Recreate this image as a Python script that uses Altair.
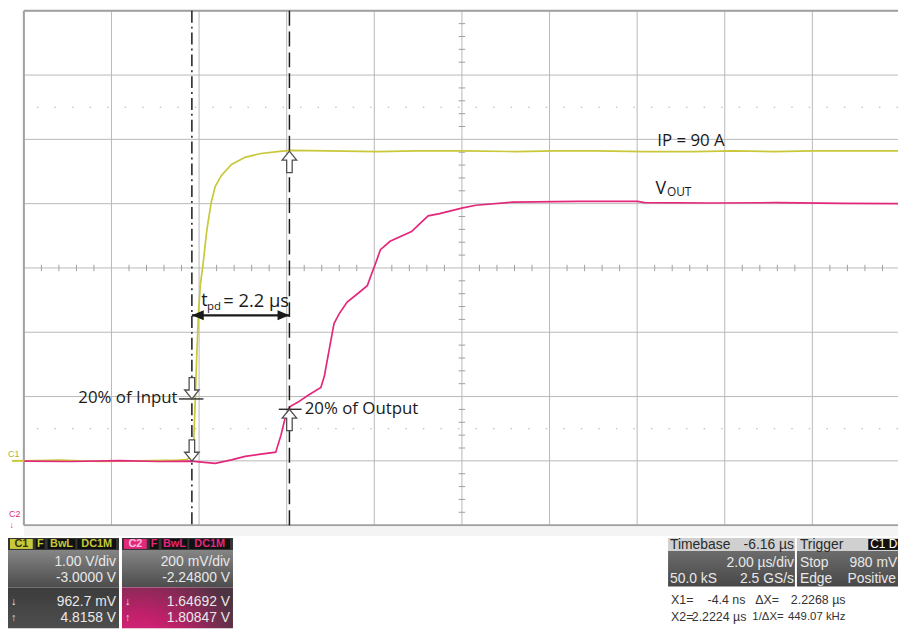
import altair as alt
import pandas as pd

# ---------------- oscilloscope settings ----------------
TIME_PER_DIV = 2.0          # µs/div
TIMEBASE_CENTER = 6.16      # µs at screen centre (Timebase -6.16 µs)
C1_VDIV, C1_OFFSET = 1.00, -3.0000
C2_VDIV, C2_OFFSET = 0.200, -2.24800
X1, X2 = -0.0044, 2.2224
C1_LOW, C1_HIGH = 0.9627, 4.8158
C2_LOW, C2_HIGH = 1.64692, 1.80847

# ---------------- traces ----------------
C1_T = [-3.83, -3.02, -2.11, -1.21, -0.30, -0.12, -0.05, -0.01, 0.04, 0.075, 0.11, 0.15,
        0.19, 0.24, 0.29, 0.33, 0.38, 0.44, 0.53, 0.67, 0.90, 1.21, 1.57, 1.95, 2.25,
        3.09, 4.22, 5.13, 6.17, 7.39, 8.29, 9.20, 10.33, 11.46, 12.37, 13.27, 14.18, 15.08, 16.12]
C1_V = [0.00, 0.01, -0.01, 0.00, 0.01, 0.02, 0.06, 0.12, 0.35, 1.00, 1.70, 2.34,
        2.75, 3.00, 3.30, 3.55, 3.78, 4.03, 4.27, 4.44, 4.61, 4.72, 4.78, 4.81, 4.83,
        4.82, 4.81, 4.82, 4.82, 4.81, 4.82, 4.82, 4.81, 4.81, 4.82, 4.81, 4.82, 4.82, 4.82]

C2_T = [-3.83, -2.79, -1.66, -0.76, -0.01, 0.22, 0.53, 0.90, 1.21, 1.57, 1.91, 2.03, 2.12,
        2.23, 2.41, 2.66, 2.94, 3.02, 3.13, 3.24, 3.36, 3.54, 3.77, 4.00, 4.11, 4.18, 4.30,
        4.52, 5.01, 5.17, 5.39, 5.65, 6.18, 6.48, 7.32, 8.81, 10.17, 10.33, 11.84, 13.34,
        14.86, 16.12]
C2_V = [1.647, 1.646, 1.649, 1.646, 1.647, 1.644, 1.640, 1.651, 1.662, 1.669, 1.675, 1.728,
        1.779, 1.816, 1.830, 1.853, 1.876, 1.912, 1.994, 2.075, 2.106, 2.142, 2.167, 2.193,
        2.234, 2.259, 2.305, 2.331, 2.361, 2.382, 2.410, 2.417, 2.435, 2.443, 2.453, 2.455,
        2.455, 2.451, 2.450, 2.451, 2.449, 2.448]

YELLOW = "#c8c83a"
MAGENTA = "#e3287c"
GRID = "#b8b8b8"
INK = "#1a1a1a"
ANNOT_FONT = "Open Sans"
PANEL_FONT = "Liberation Sans"

W, H = 882, 519
T_LEFT = TIMEBASE_CENTER - 5 * TIME_PER_DIV
T_RIGHT = T_LEFT + 10 * TIME_PER_DIV * W / 884.0

xscale = alt.Scale(domain=[T_LEFT, T_RIGHT], nice=False, zero=False)
yscale = alt.Scale(domain=[-4, 4], nice=False, zero=False)


def X(f="t"):
    return alt.X(f"{f}:Q", scale=xscale, axis=None)


def Y(f="d"):
    return alt.Y(f"{f}:Q", scale=yscale, axis=None)


def c1div(v):
    return (v + C1_OFFSET) / C1_VDIV


def c2div(v):
    return (v + C2_OFFSET) / C2_VDIV


def px(xp):
    return xp - 24


def py(yp):
    return yp - 8


one = pd.DataFrame({"k": [0]})
layers = []

# ---------------- grid ----------------
VGRID = [T_LEFT + k * TIME_PER_DIV for k in range(1, 10)]
HGRID = [-3, -2, -1, 0, 1, 2, 3]
layers.append(alt.Chart(pd.DataFrame({"t": VGRID})).mark_rule(color=GRID, strokeWidth=1).encode(x=X()))
layers.append(alt.Chart(pd.DataFrame({"d": HGRID})).mark_rule(color=GRID, strokeWidth=1).encode(y=Y()))
layers.append(alt.Chart(pd.DataFrame({"d": [-2.5, 2.5]})).mark_rule(
    color="#b0b0b0", strokeWidth=1, strokeDash=[1.5, 16.2]).encode(y=Y()))

mt = [TIMEBASE_CENTER + 0.4 * j for j in range(-25, 26) if j % 5 != 0]
mt = [t for t in mt if T_LEFT < t < T_RIGHT]
layers.append(alt.Chart(pd.DataFrame({"t": mt, "d": [-0.05] * len(mt), "d2": [0.05] * len(mt)}))
              .mark_rule(color="#a0a0a0", strokeWidth=1).encode(x=X(), y=Y(), y2="d2:Q"))
md = [0.2 * j for j in range(-20, 21) if j % 5 != 0]
layers.append(alt.Chart(pd.DataFrame({"d": md, "t": [TIMEBASE_CENTER - 0.075] * len(md),
                                      "t2": [TIMEBASE_CENTER + 0.075] * len(md)}))
              .mark_rule(color="#a0a0a0", strokeWidth=1).encode(y=Y(), x=X(), x2="t2:Q"))

# frame (left, top, bottom)
layers.append(alt.Chart(one).mark_rule(color="#a0a0a0", strokeWidth=2).encode(x=alt.value(0)))
layers.append(alt.Chart(one).mark_rule(color="#a0a0a0", strokeWidth=2).encode(y=alt.value(0)))
layers.append(alt.Chart(one).mark_rule(color="#a0a0a0", strokeWidth=2).encode(y=alt.value(H)))

# ---------------- traces ----------------
c1 = pd.DataFrame({"t": C1_T, "v": C1_V})
c1["d"] = c1div(c1["v"])
c2 = pd.DataFrame({"t": C2_T, "v": C2_V})
c2["d"] = c2div(c2["v"])
layers.append(alt.Chart(c1).mark_line(color=YELLOW, strokeWidth=1.7, clip=True).encode(x=X(), y=Y()))
layers.append(alt.Chart(c2).mark_line(color=MAGENTA, strokeWidth=1.7, clip=True).encode(x=X(), y=Y()))

# ---------------- cursors ----------------
layers.append(alt.Chart(pd.DataFrame({"t": [X1]})).mark_rule(
    color=INK, strokeWidth=1.5, strokeDash=[12, 4, 2, 4]).encode(x=X()))
layers.append(alt.Chart(pd.DataFrame({"t": [X2]})).mark_rule(
    color=INK, strokeWidth=1.5, strokeDash=[15, 6]).encode(x=X()))

# level marks
lv = pd.DataFrame({"t": [-0.30, 1.98], "t2": [0.26, 2.50], "d": [c1div(C1_LOW), c2div(C2_HIGH)]})
layers.append(alt.Chart(lv).mark_rule(color=INK, strokeWidth=1.3).encode(x=X(), x2="t2:Q", y=Y()))

# hollow cursor arrows
DOWN = "M0,0 L-0.34,-0.42 L-0.13,-0.42 L-0.13,-1 L0.13,-1 L0.13,-0.42 L0.34,-0.42 Z"
UP = "M0,0 L-0.34,0.42 L-0.13,0.42 L-0.13,1 L0.13,1 L0.13,0.42 L0.34,0.42 Z"
dn = pd.DataFrame({"t": [X1, X1], "d": [c1div(C1_LOW), c2div(C2_LOW)]})
up = pd.DataFrame({"t": [X2, X2], "d": [c1div(C1_HIGH), c2div(C2_HIGH)]})
layers.append(alt.Chart(dn).mark_point(shape=DOWN, size=1850, filled=True, fill="white",
                                       stroke="#505050", strokeWidth=1.3, opacity=1).encode(x=X(), y=Y()))
layers.append(alt.Chart(up).mark_point(shape=UP, size=1850, filled=True, fill="white",
                                       stroke="#505050", strokeWidth=1.3, opacity=1).encode(x=X(), y=Y()))

# t_pd double arrow
TPD_LEVEL = -0.736
layers.append(alt.Chart(pd.DataFrame({"t": [X1], "t2": [X2], "d": [TPD_LEVEL]})).mark_rule(
    color=INK, strokeWidth=2.2).encode(x=X(), x2="t2:Q", y=Y()))
layers.append(alt.Chart(pd.DataFrame({"t": [X1], "d": [TPD_LEVEL]})).mark_point(
    shape="M0,0 L1,-0.42 L1,0.42 Z", size=576, filled=True, color=INK, opacity=1).encode(x=X(), y=Y()))
layers.append(alt.Chart(pd.DataFrame({"t": [X2], "d": [TPD_LEVEL]})).mark_point(
    shape="M0,0 L-1,-0.42 L-1,0.42 Z", size=576, filled=True, color=INK, opacity=1).encode(x=X(), y=Y()))

# ---------------- annotation texts ----------------
def annot(rows, align):
    df = pd.DataFrame(rows, columns=["label", "t", "d", "s"])
    return alt.Chart(df).mark_text(align=align, baseline="middle", font=ANNOT_FONT, color=INK).encode(
        x=X(), y=Y(), text="label:N", size=alt.Size("s:Q", scale=None))


layers.append(annot([["20% of Input", -0.33, c1div(C1_LOW) + 0.02, 17]], "right"))
layers.append(annot([["20% of Output", 2.57, c2div(C2_HIGH) + 0.0, 17],
                     ["IP = 90 A", 10.62, 1.98, 17],
                     ["V", 10.58, 1.23, 18],
                     ["OUT", 10.84, 1.18, 12],
                     ["t", 0.21, -0.52, 18],
                     ["pd", 0.34, -0.60, 11.5],
                     ["= 2.2 µs", 0.71, -0.52, 18.5]], "left"))

# channel ground markers and trigger marker
layers.append(alt.Chart(pd.DataFrame({"d": [c1div(0.0)]})).mark_rule(color=YELLOW, strokeWidth=2).encode(
    x=alt.value(-12), x2=alt.value(0), y=Y()))
layers.append(alt.Chart(pd.DataFrame({"t": [0.0]})).mark_point(
    shape="triangle-up", size=55, filled=True, color="#e0a020", opacity=1).encode(x=X(), y=alt.value(py(533))))

# ---------------- bottom info panels ----------------
rects = pd.DataFrame([
    [24, 528, 906, 538, "#f4f4f4"],
    [8, 540, 120, 552, "#353535"], [10, 541, 33, 551, YELLOW], [36, 541, 45, 551, "#111111"],
    [48, 541, 76, 551, "#111111"], [78, 541, 117, 551, "#111111"],
    [123, 540, 235, 552, "#353535"], [125, 541, 148, 551, MAGENTA], [151, 541, 160, 551, "#111111"],
    [163, 541, 189, 551, "#111111"], [191, 541, 232, 551, "#111111"],
    [674, 540, 802, 553, "#d0d0d0"], [804, 540, 906, 553, "#d0d0d0"], [876, 541, 906, 552, "#111111"],
], columns=["x1", "y1", "x2", "y2", "f"])
for c in ["x1", "x2"]:
    rects[c] = rects[c] - 24
for c in ["y1", "y2"]:
    rects[c] = rects[c] - 8
layers.append(alt.Chart(rects).mark_rect().encode(
    x=alt.X("x1:Q", scale=None, axis=None), x2="x2:Q",
    y=alt.Y("y1:Q", scale=None, axis=None), y2="y2:Q",
    fill=alt.Fill("f:N", scale=None)))


def grad(top, bottom):
    return alt.LinearGradient(gradient="linear", x1=0, y1=0, x2=0, y2=1,
                              stops=[alt.GradientStop(color=top, offset=0),
                                     alt.GradientStop(color=bottom, offset=1)])


def grect(x1, y1, x2, y2, fill):
    return alt.Chart(one).mark_rect(fill=fill).encode(
        x=alt.value(px(x1)), x2=alt.value(px(x2)), y=alt.value(py(y1)), y2=alt.value(py(y2)))


layers.append(grect(8, 552, 120, 590, grad("#858585", "#4c4c4c")))
layers.append(grect(8, 590, 120, 631, grad("#3c3c3c", "#4e4e4e")))
layers.append(grect(123, 552, 235, 590, grad("#858585", "#4c4c4c")))
layers.append(grect(123, 590, 235, 631, alt.RadialGradient(
    gradient="radial", x1=0.15, y1=1.0, r1=0.0, x2=0.15, y2=1.0, r2=1.0,
    stops=[alt.GradientStop(color="#f52a8a", offset=0), alt.GradientStop(color="#c0206a", offset=0.45),
           alt.GradientStop(color="#4a3440", offset=1)])))
layers.append(grect(674, 553, 802, 589, grad("#6c6c6c", "#474747")))
layers.append(grect(804, 553, 906, 589, grad("#6c6c6c", "#474747")))


def ptext(rows, align, weight="normal"):
    df = pd.DataFrame(rows, columns=["label", "xp", "yp", "c", "s"])
    df["x"] = df["xp"] - 24
    df["y"] = df["yp"] - 8
    return alt.Chart(df).mark_text(align=align, baseline="middle", font=PANEL_FONT, fontWeight=weight).encode(
        x=alt.X("x:Q", scale=None, axis=None), y=alt.Y("y:Q", scale=None, axis=None),
        text="label:N", color=alt.Color("c:N", scale=None), size=alt.Size("s:Q", scale=None))


LT = "#e8e8e8"
DK = "#2a2a2a"
RD = "#333333"
layers.append(ptext([
    ["C1", 21.5, 546.5, "#34340c", 11], ["F", 40.5, 546.5, YELLOW, 11], ["BwL", 62, 546.5, YELLOW, 11],
    ["DC1M", 97.5, 546.5, YELLOW, 11],
    ["C2", 136.5, 546.5, "#ffc0dc", 11], ["F", 155.5, 546.5, MAGENTA, 11], ["BwL", 176, 546.5, MAGENTA, 11],
    ["DC1M", 211.5, 546.5, MAGENTA, 11],
], "center", "bold"))
layers.append(ptext([
    ["1.00 V/div", 117, 564, LT, 14], ["-3.0000 V", 117, 580, LT, 14],
    ["962.7 mV", 117, 605, LT, 14], ["4.8158 V", 117, 621, LT, 14],
    ["200 mV/div", 232, 564, LT, 14], ["-2.24800 V", 232, 580, LT, 14],
    ["1.64692 V", 232, 605, LT, 14], ["1.80847 V", 232, 621, LT, 14],
    ["-6.16 µs", 801, 547, DK, 14], ["2.00 µs/div", 801, 565, LT, 14], ["2.5 GS/s", 801, 581, LT, 14],
    ["-4.4 ns", 752, 603, RD, 12.5], ["2.2268 µs", 853, 603, RD, 12.5],
    ["2.2224 µs", 753, 620, RD, 12.5], ["449.07 kHz", 853, 620, RD, 11.5],
], "right"))
layers.append(ptext([
    ["↓", 11, 605, LT, 11], ["↑", 11, 621, LT, 11], ["↓", 126, 605, LT, 11], ["↑", 126, 621, LT, 11],
    ["Timebase", 676, 547, DK, 14], ["50.0 kS", 676, 581, LT, 14],
    ["Trigger", 807, 547, DK, 14], ["C1 DC", 878, 546.5, "#ffffff", 12],
    ["Stop", 807, 565, LT, 14], ["980 mV", 857, 565, LT, 14],
    ["Edge", 807, 581, LT, 14], ["Positive", 855, 581, LT, 14],
    ["X1=", 677, 603, RD, 12.5], ["ΔX=", 762, 603, RD, 12.5],
    ["X2=", 677, 620, RD, 12.5], ["1/ΔX=", 759, 620, RD, 11.5],
    ["C1", 8, 455, "#b0b030", 9], ["C2", 9, 516, MAGENTA, 9], ["↓", 9.5, 527, MAGENTA, 9],
], "left"))

chart = alt.layer(*layers).properties(
    width=W, height=H,
    autosize=alt.AutoSizeParams(type="none"),
    padding={"left": 16, "top": 0, "right": 0, "bottom": 104},
).configure_view(strokeWidth=0).configure(background="white")

chart.save("out.html", embed_options={"renderer": "svg", "actions": False})
